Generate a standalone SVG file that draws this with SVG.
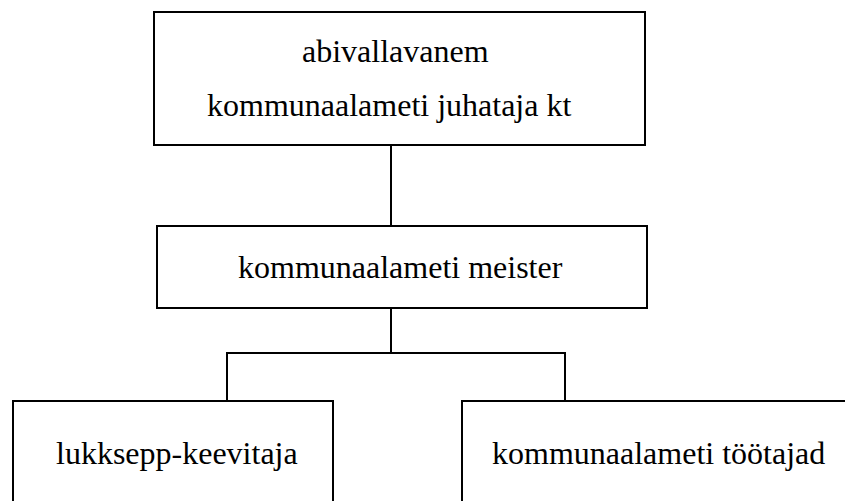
<svg xmlns="http://www.w3.org/2000/svg" width="845" height="501" viewBox="0 0 845 501">
  <style>
    .box { fill: #ffffff; stroke: #000000; stroke-width: 2; }
    .link { fill: none; stroke: #000000; stroke-width: 2; }
    .label { font-family: "Liberation Serif", "Times New Roman", serif; font-size: 32px; fill: #000000; }
  </style>
  <rect width="845" height="501" fill="#ffffff"/>

  <!-- connectors -->
  <g id="connectors">
    <line class="link" x1="391" y1="145" x2="391" y2="226"/>
    <line class="link" x1="391" y1="308" x2="391" y2="353"/>
    <polyline class="link" points="227,401 227,353 565,353 565,403"/>
  </g>

  <g id="node-abivallavanem">
    <rect class="box" x="154" y="12" width="491" height="133"/>
    <text class="label" x="302" y="62">abivallavanem</text>
    <text class="label" x="207" y="116">kommunaalameti juhataja kt</text>
  </g>

  <g id="node-meister">
    <rect class="box" x="157" y="226" width="490" height="82"/>
    <text class="label" x="238" y="278">kommunaalameti meister</text>
  </g>

  <g id="node-lukksepp">
    <rect class="box" x="13" y="401" width="320" height="120"/>
    <text class="label" x="56" y="464">lukksepp-keevitaja</text>
  </g>

  <g id="node-tootajad">
    <rect class="box" x="462" y="401" width="400" height="120"/>
    <text class="label" x="492" y="464">kommunaalameti töötajad</text>
  </g>
</svg>
